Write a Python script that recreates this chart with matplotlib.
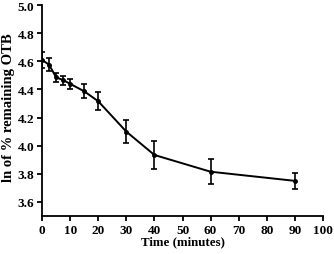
import matplotlib
matplotlib.use("Agg")
import matplotlib.pyplot as plt

time_min = [0, 2.5, 5, 7.5, 10, 15, 20, 30, 40, 60, 90]
ln_remaining = [4.61, 4.576, 4.486, 4.467, 4.44, 4.387, 4.316, 4.10, 3.934, 3.815, 3.75]
err = [0.06, 0.045, 0.03, 0.032, 0.035, 0.05, 0.064, 0.083, 0.098, 0.089, 0.058]
xticks = list(range(0, 101, 10))
yticks = [3.6, 3.8, 4.0, 4.2, 4.4, 4.6, 4.8, 5.0]

plt.rcParams['font.family'] = ['Liberation Serif', 'DejaVu Serif']
plt.rcParams['font.weight'] = 'bold'

fig = plt.figure(figsize=(3.34, 2.55), dpi=100)
ax = fig.add_axes([0.126, 0.149, 0.841, 0.827])
ax.errorbar(time_min, ln_remaining, yerr=err, color='black', lw=1.4,
            marker='o', ms=2.5, capsize=2, elinewidth=1.2, capthick=1.2)
ax.set_xlim(0, 100)
ax.set_ylim(3.5, 5.0)
ax.set_xticks(xticks)
ax.set_yticks(yticks)
ax.set_yticklabels([f"{v:.1f}" for v in yticks])
ax.spines['top'].set_visible(False)
ax.spines['right'].set_visible(False)
ax.spines['left'].set_linewidth(1.3)
ax.spines['bottom'].set_linewidth(1.3)
ax.tick_params(direction='out', length=3.5, width=1.3, labelsize=9.5, pad=2)
for lbl in ax.get_xticklabels() + ax.get_yticklabels():
    lbl.set_fontweight('bold')
ax.set_xlabel('Time (minutes)', fontsize=9.3, fontweight='bold', labelpad=0)
ax.set_ylabel('ln of % remaining OTB', fontsize=10.5, fontweight='bold', labelpad=2)
ax.yaxis.set_label_coords(-0.098, 0.52)
fig.savefig('out.png', dpi=100)
